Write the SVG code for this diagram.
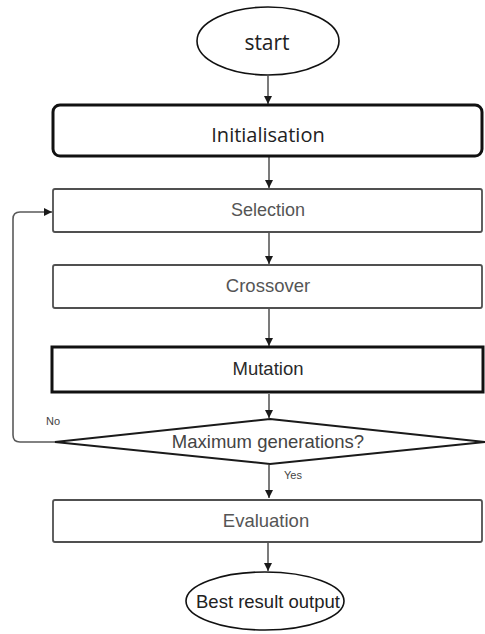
<svg xmlns="http://www.w3.org/2000/svg" width="485" height="634" viewBox="0 0 485 634">
  <style>
    .bg { fill: #ffffff; }
    .term { fill: #ffffff; stroke: #111111; stroke-width: 1.6; }
    .box { fill: #ffffff; stroke: #505050; stroke-width: 1.8; }
    .bold { fill: #ffffff; stroke: #111111; stroke-width: 3; }
    .dec { fill: #ffffff; stroke: #1a1a1a; stroke-width: 2; }
    .link { fill: none; stroke: #5a5a5a; stroke-width: 1.6; }
    .t-open { font-family: "Open Sans", "DejaVu Sans", sans-serif; fill: #222222; text-anchor: middle; }
    .t { font-family: "Liberation Sans", Arial, sans-serif; text-anchor: middle; }
    .small { font-family: "Liberation Sans", Arial, sans-serif; font-size: 11px; fill: #444444; }
  </style>
  <defs>
    <marker id="arrow" viewBox="0 0 8 8" refX="8" refY="4" markerWidth="8" markerHeight="8" markerUnits="userSpaceOnUse" orient="auto">
      <path d="M0,0 L8,4 L0,8 Z" fill="#1a1a1a"/>
    </marker>
  </defs>
  <rect class="bg" x="0" y="0" width="485" height="634"/>

  <!-- connectors -->
  <g id="connectors">
    <line class="link" x1="268" y1="76" x2="268" y2="104" marker-end="url(#arrow)"/>
    <line class="link" x1="269" y1="157" x2="269" y2="188" marker-end="url(#arrow)"/>
    <line class="link" x1="269" y1="233" x2="269" y2="264" marker-end="url(#arrow)"/>
    <line class="link" x1="269" y1="309" x2="269" y2="346" marker-end="url(#arrow)"/>
    <line class="link" x1="269" y1="394" x2="269" y2="418" marker-end="url(#arrow)"/>
    <line class="link" x1="269" y1="465" x2="269" y2="498" marker-end="url(#arrow)"/>
    <line class="link" x1="268" y1="543" x2="268" y2="571" marker-end="url(#arrow)"/>
    <!-- "No" loop back to Selection -->
    <path class="link" d="M55,442 L20,442 Q13,442 13,435 L13,219 Q13,212 20,212 L52,212" marker-end="url(#arrow)"/>
    <text class="small" x="46" y="425">No</text>
    <text class="small" x="284" y="479">Yes</text>
  </g>

  <g id="start">
    <ellipse class="term" cx="268" cy="41" rx="71" ry="34"/>
    <text class="t-open" x="267" y="50" font-size="21">start</text>
  </g>

  <g id="initialisation">
    <rect class="bold" x="53" y="105" width="429" height="51" rx="7"/>
    <text class="t-open" x="268" y="142" font-size="20">Initialisation</text>
  </g>

  <g id="selection">
    <rect class="box" x="53" y="189" width="429" height="43" rx="2"/>
    <text class="t" x="268" y="216" font-size="18" fill="#555555">Selection</text>
  </g>

  <g id="crossover">
    <rect class="box" x="53" y="265" width="429" height="43" rx="2"/>
    <text class="t" x="268" y="292" font-size="18.5" fill="#555555">Crossover</text>
  </g>

  <g id="mutation">
    <rect class="bold" x="52" y="347" width="431" height="45"/>
    <text class="t" x="268" y="375" font-size="18.5" fill="#2a2a2a">Mutation</text>
  </g>

  <g id="max-generations">
    <polygon class="dec" points="270,419 485,442 270,464 55,442"/>
    <text class="t" x="268" y="448" font-size="18.5" fill="#444444">Maximum generations?</text>
  </g>

  <g id="evaluation">
    <rect class="box" x="53" y="500" width="429" height="42" rx="2"/>
    <text class="t" x="266" y="527" font-size="18.5" fill="#555555">Evaluation</text>
  </g>

  <g id="best-result">
    <ellipse class="term" cx="265" cy="601" rx="79" ry="29" stroke-width="2"/>
    <text class="t" x="268" y="608" font-size="18.5" fill="#222222">Best result output</text>
  </g>
</svg>
